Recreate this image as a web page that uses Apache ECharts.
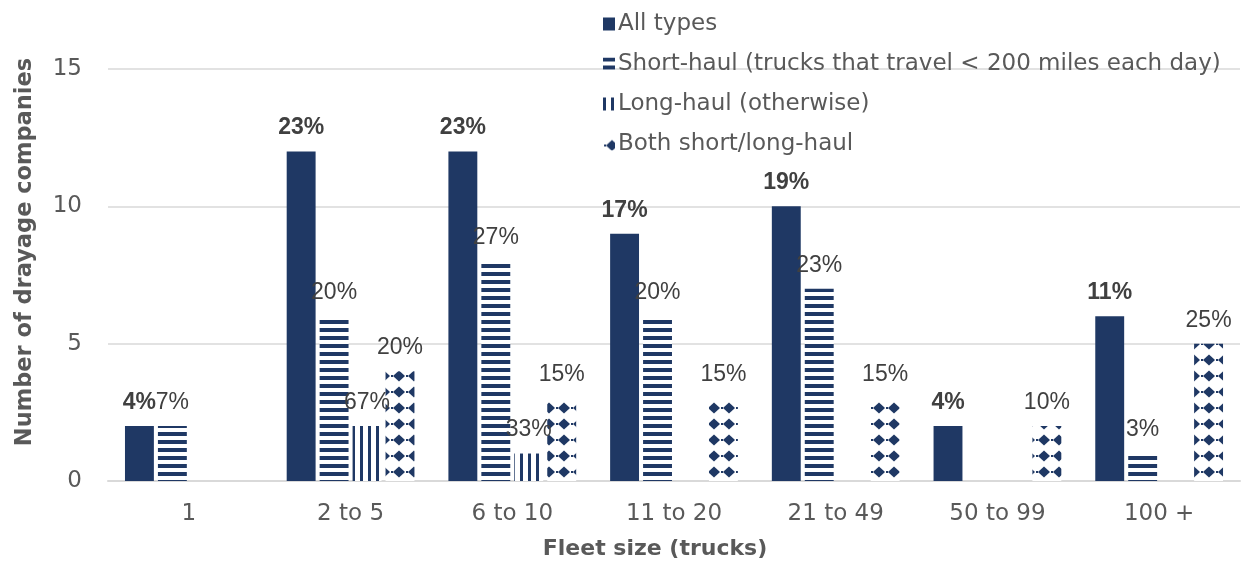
<!DOCTYPE html>
<html>
<head>
<meta charset="utf-8">
<script src="https://cdn.jsdelivr.net/npm/echarts@6/dist/echarts.min.js"></script>
<style>
  html, body { margin: 0; padding: 0; background: #ffffff; }
  #chart { width: 1244px; height: 565px; }
</style>
</head>
<body>
<div id="chart"></div>
<script>
// Fleet size buckets
const categories = ['1', '2 to 5', '6 to 10', '11 to 20', '21 to 49', '50 to 99', '100 +'];

// Number of drayage companies per fleet size
const allTypes  = [2, 12, 12, 9, 10, 2, 6];
const shortHaul = [2, 6, 8, 6, 7, 0, 1];
const longHaul  = [0, 2, 1, 0, 0, 0, 0];
const bothHaul  = [0, 4, 3, 3, 3, 2, 5];

// Share of each group (label text)
const allTypesPct  = ['4%', '23%', '23%', '17%', '19%', '4%', '11%'];
const shortHaulPct = ['7%', '20%', '27%', '20%', '23%', '', '3%'];
const longHaulPct  = ['', '67%', '33%', '', '', '', ''];
const bothHaulPct  = ['', '20%', '15%', '15%', '15%', '10%', '25%'];

const yTicks = [0, 5, 10, 15];

const NAVY = '#1F3864';
const WIDE_FONT = '"DejaVu Sans", Arial, sans-serif';
const LABEL_FONT = '"Liberation Sans", Arial, sans-serif';

function makeTile(w, h, draw) {
  const c = document.createElement('canvas');
  c.width = w; c.height = h;
  const ctx = c.getContext('2d');
  ctx.fillStyle = '#ffffff';
  ctx.fillRect(0, 0, w, h);
  ctx.fillStyle = NAVY;
  draw(ctx);
  return { image: c, repeat: 'repeat' };
}

// horizontal stripes
const hStripes = makeTile(8, 8, ctx => { ctx.fillRect(0, 0, 8, 4); });
// vertical stripes
const vStripes = makeTile(8, 8, ctx => { ctx.fillRect(0, 0, 3, 8); });
// diamonds with small dots
const diamonds = makeTile(15, 16, ctx => {
  ctx.beginPath();
  ctx.moveTo(9, 2.5);
  ctx.lineTo(15, 8);
  ctx.lineTo(9, 13.5);
  ctx.lineTo(3, 8);
  ctx.closePath();
  ctx.fill();
  ctx.fillRect(1, 7, 2, 2);
});

function pctLabel(pcts, bold) {
  return {
    show: true,
    position: 'top',
    distance: 12,
    fontFamily: LABEL_FONT,
    fontSize: 23,
    fontWeight: bold ? 'bold' : 'normal',
    color: '#404040',
    formatter: p => pcts[p.dataIndex] || ''
  };
}

function zeroToNull(arr) { return arr.map(v => (v === 0 ? null : v)); }

const chart = echarts.init(document.getElementById('chart'), null, { renderer: 'canvas' });

chart.setOption({
  animation: false,
  backgroundColor: '#ffffff',
  grid: { left: 108, right: 4, top: 69, bottom: 84, containLabel: false, outerBoundsMode: 'none' },
  legend: {
    orient: 'vertical',
    left: 598,
    top: 7,
    itemWidth: 12,
    itemHeight: 13,
    itemGap: 16,
    icon: 'rect',
    textStyle: { fontFamily: WIDE_FONT, fontSize: 23, color: '#595959', lineHeight: 24, padding: [0, 0, 0, -2] },
    data: [
      'All types',
      'Short-haul (trucks that travel < 200 miles each day)',
      'Long-haul (otherwise)',
      'Both short/long-haul'
    ]
  },
  xAxis: {
    type: 'category',
    data: categories,
    name: 'Fleet size (trucks)',
    nameLocation: 'middle',
    nameGap: 57,
    nameTextStyle: { fontFamily: WIDE_FONT, fontSize: 22, fontWeight: 'bold', color: '#595959', padding: [0, 38, 0, 0] },
    axisLine: { show: true, lineStyle: { color: '#d9d9d9', width: 2 } },
    axisTick: { show: false },
    axisLabel: { fontFamily: WIDE_FONT, fontSize: 23, color: '#595959', margin: 22 }
  },
  yAxis: {
    type: 'value',
    min: yTicks[0],
    max: yTicks[yTicks.length - 1],
    interval: yTicks[1] - yTicks[0],
    name: 'Number of drayage companies',
    nameLocation: 'middle',
    nameGap: 71,
    nameTextStyle: { fontFamily: WIDE_FONT, fontSize: 22.5, fontWeight: 'bold', color: '#595959', padding: [0, 0, 0, 46] },
    axisLine: { show: false },
    axisTick: { show: false },
    axisLabel: { fontFamily: WIDE_FONT, fontSize: 23, color: '#595959', margin: 26 },
    splitLine: { show: true, lineStyle: { color: '#d9d9d9', width: 1.5 } }
  },
  series: [
    {
      name: 'All types',
      type: 'bar',
      data: allTypes,
      barCategoryGap: '21%',
      barGap: '14%',
      itemStyle: { color: NAVY },
      label: pctLabel(allTypesPct, true)
    },
    {
      name: 'Short-haul (trucks that travel < 200 miles each day)',
      type: 'bar',
      data: zeroToNull(shortHaul),
      itemStyle: { color: hStripes },
      label: pctLabel(shortHaulPct, false)
    },
    {
      name: 'Long-haul (otherwise)',
      type: 'bar',
      data: zeroToNull(longHaul),
      itemStyle: { color: vStripes },
      label: pctLabel(longHaulPct, false)
    },
    {
      name: 'Both short/long-haul',
      type: 'bar',
      data: zeroToNull(bothHaul),
      itemStyle: { color: diamonds },
      label: pctLabel(bothHaulPct, false)
    }
  ]
});
</script>
</body>
</html>
